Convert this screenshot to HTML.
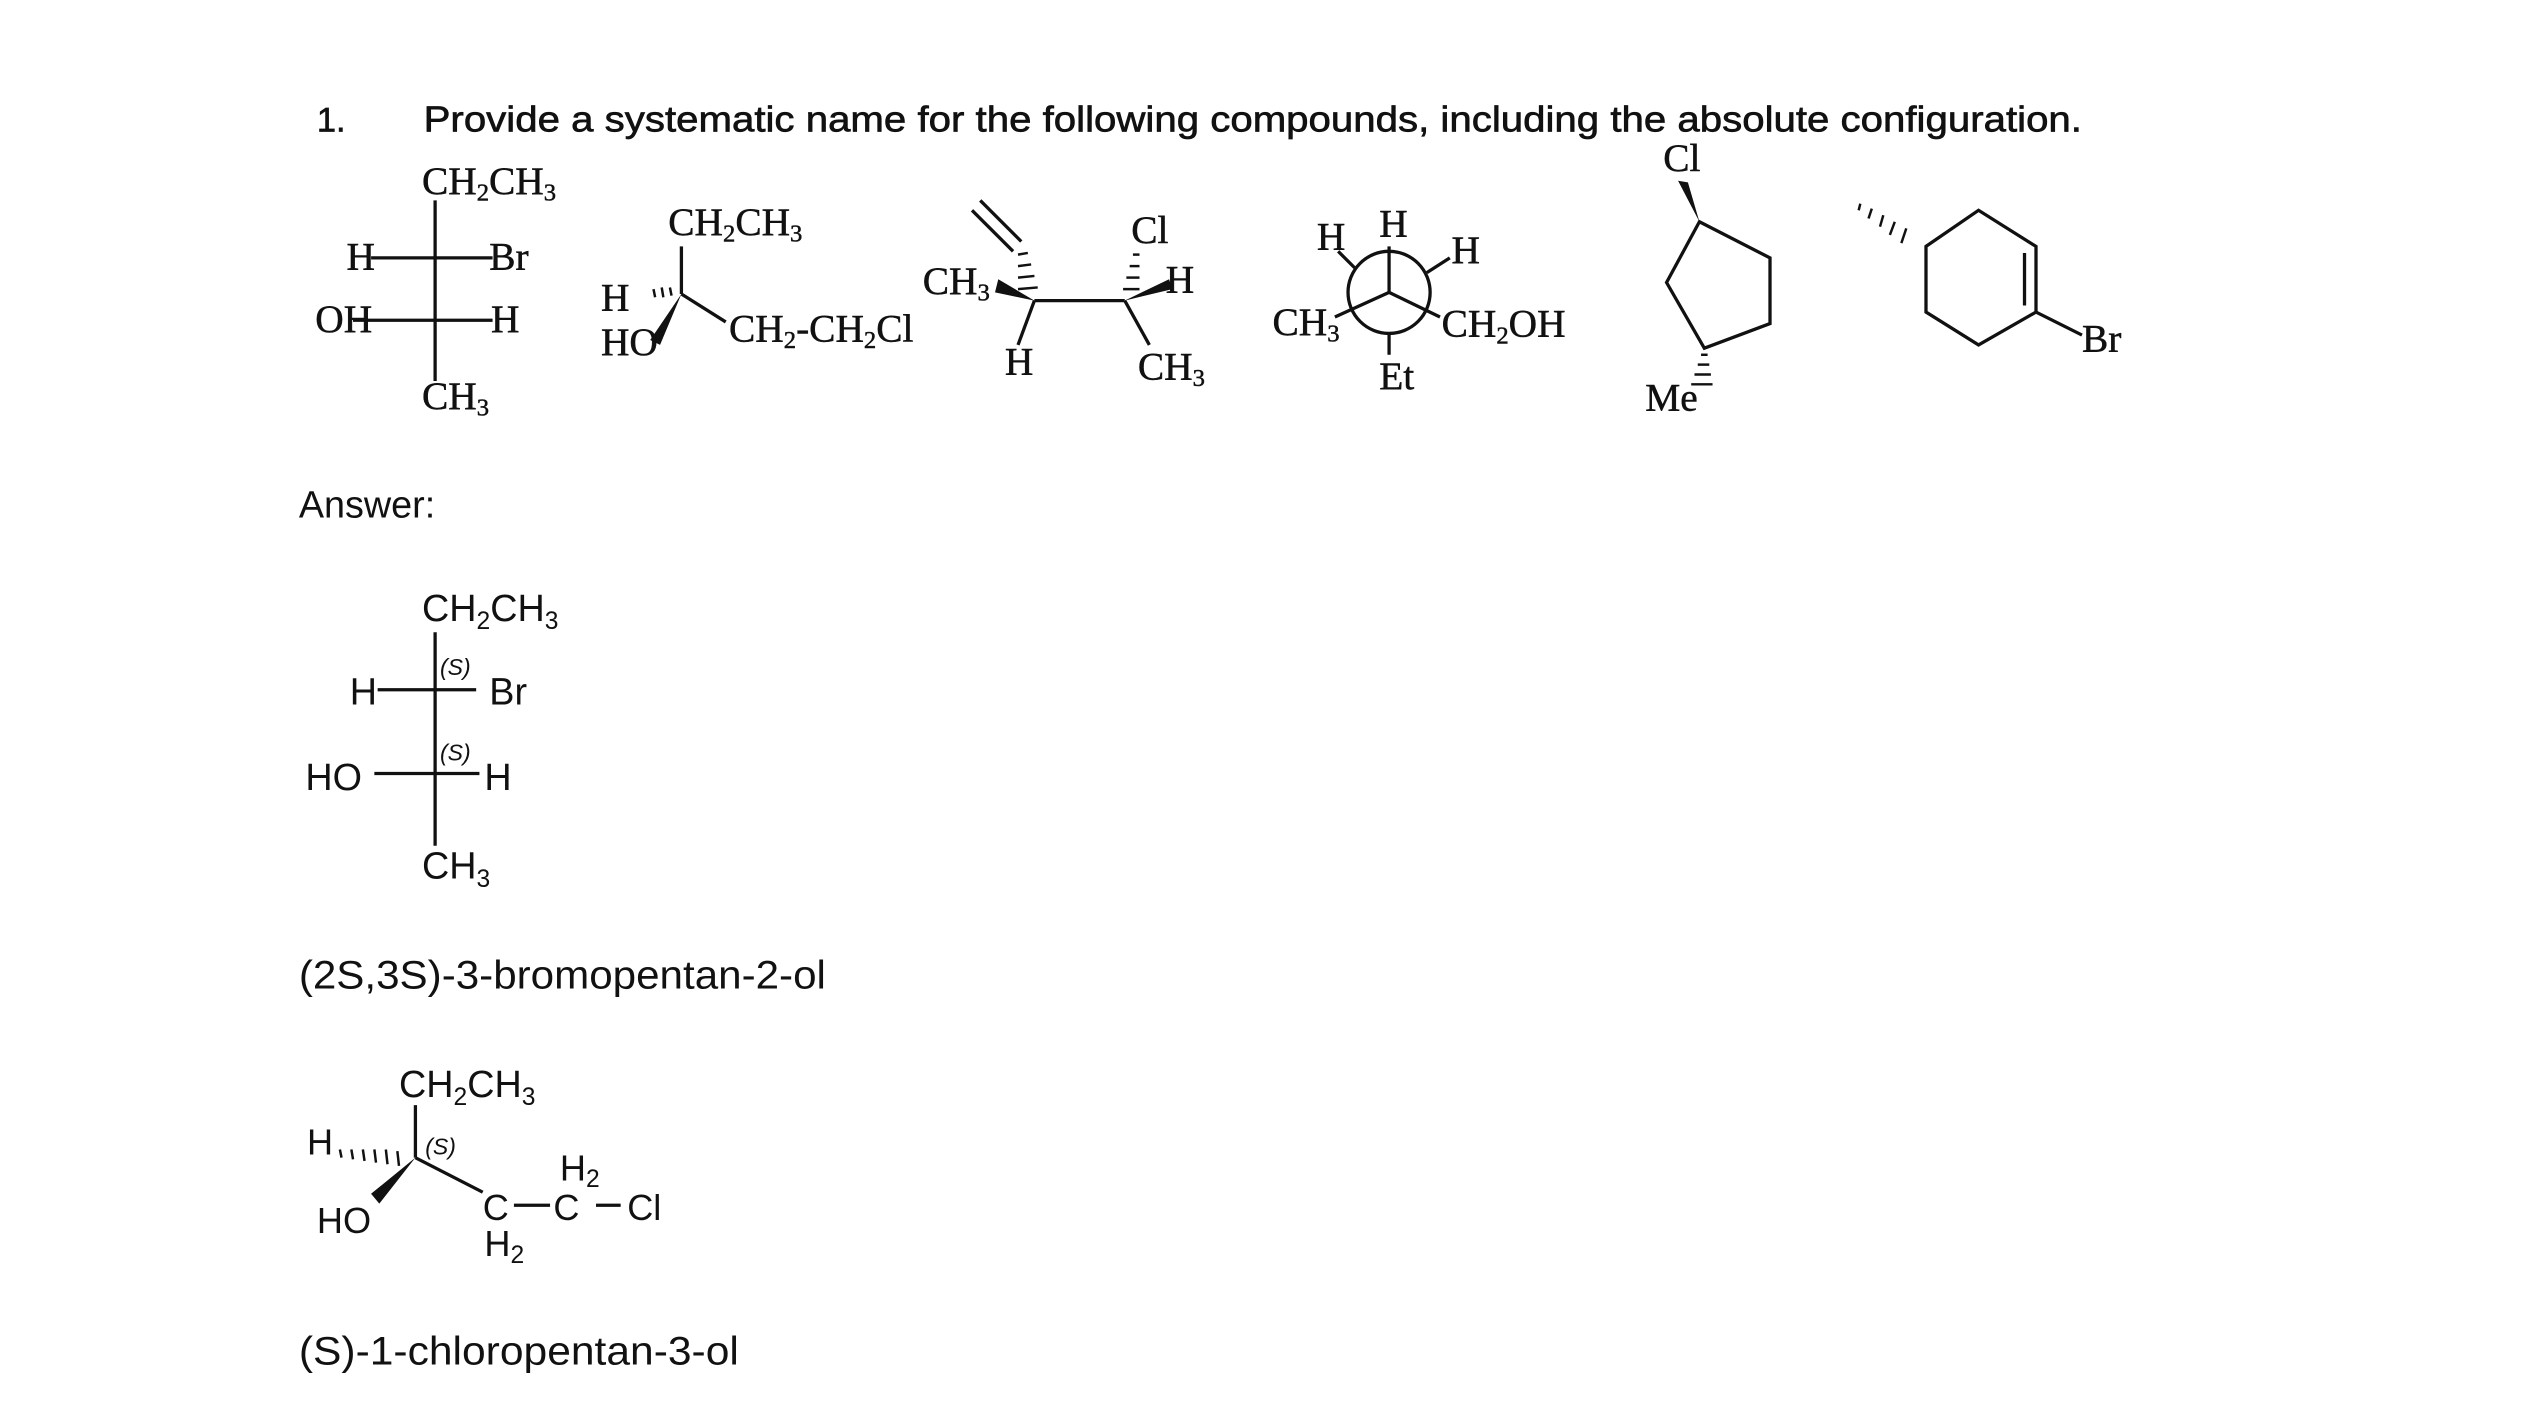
<!DOCTYPE html>
<html><head><meta charset="utf-8"><style>
html,body{margin:0;padding:0;background:#fff;}
svg{display:block;}
.s{font-family:"Liberation Serif",serif;font-size:24px;fill:#111;}
.a{font-family:"Liberation Sans",sans-serif;fill:#111;}
.sub{font-size:15px;}
</style></head><body>
<svg width="2545" height="1409" viewBox="0 0 1550 858" xmlns="http://www.w3.org/2000/svg">
<rect width="1550" height="858" fill="#fff"/>
<g stroke="#111" stroke-width="2" fill="none">
<!-- mol1 -->
<line x1="265" y1="122" x2="265" y2="232"/>
<line x1="226" y1="157" x2="300" y2="157"/>
<line x1="215" y1="195" x2="300" y2="195"/>
<!-- mol2 -->
<line x1="415" y1="150" x2="415" y2="179"/>
<line x1="415" y1="179" x2="442" y2="196"/>
<!-- mol3 -->
<line x1="597" y1="122" x2="622" y2="147"/>
<line x1="592" y1="128" x2="617" y2="153"/>
<line x1="630" y1="183" x2="685" y2="183"/>
<line x1="630" y1="183" x2="620" y2="210"/>
<line x1="685" y1="183" x2="700" y2="210"/>
<!-- newman -->
<circle cx="846" cy="178" r="25"/>
<line x1="846" y1="178" x2="846" y2="150"/>
<line x1="846" y1="178" x2="813" y2="193"/>
<line x1="846" y1="178" x2="877" y2="193"/>
<line x1="825" y1="163" x2="815" y2="153"/>
<line x1="869" y1="166" x2="883" y2="157"/>
<line x1="846" y1="203" x2="846" y2="216"/>
<!-- cyclopentane -->
<polygon points="1035,135 1078,157 1078,197 1038,212 1015,172"/>
<!-- cyclohexene -->
<polygon points="1173,150 1205,128 1240,150 1240,190 1205,210 1173,190"/>
<line x1="1233" y1="154" x2="1233" y2="186"/>
<line x1="1240" y1="190" x2="1268" y2="204"/>
<!-- answer fischer -->
<line x1="265" y1="385" x2="265" y2="515"/>
<line x1="230" y1="420" x2="290" y2="420"/>
<line x1="228" y1="471" x2="292" y2="471"/>
<!-- answer 2 -->
<line x1="253" y1="673" x2="253" y2="705"/>
<line x1="253" y1="705" x2="294" y2="726"/>
<line x1="313" y1="734" x2="335" y2="734"/>
<line x1="363" y1="734" x2="378" y2="734"/>
</g>
<g fill="#111">
<polygon points="415,179 402,210 396,207"/>
<polygon points="608,170 630,183 606,178"/>
<polygon points="685,183 712,170 714,176"/>
<polygon points="1022,110 1035,135 1028,111"/>
<polygon points="253,705 231,733 226,727"/>
</g>
<g stroke="#111" stroke-width="1.5">
<line x1="398" y1="176" x2="399" y2="181"/><line x1="403" y1="175" x2="404" y2="181"/><line x1="408" y1="175" x2="409" y2="180"/>
<line x1="620" y1="155" x2="626" y2="154"/><line x1="620" y1="162" x2="628" y2="161"/><line x1="620" y1="169" x2="630" y2="168"/><line x1="620" y1="176" x2="632" y2="175"/>
<line x1="690" y1="155" x2="694" y2="155"/><line x1="688" y1="162" x2="694" y2="162"/><line x1="686" y1="169" x2="694" y2="169"/><line x1="684" y1="176" x2="694" y2="176"/>
<line x1="1036" y1="216" x2="1040" y2="216"/><line x1="1034" y1="222" x2="1041" y2="222"/><line x1="1032" y1="228" x2="1042" y2="228"/><line x1="1030" y1="234" x2="1043" y2="234"/>
<line x1="1133" y1="124" x2="1132" y2="128"/><line x1="1140" y1="127" x2="1138" y2="133"/><line x1="1147" y1="131" x2="1145" y2="138"/><line x1="1154" y1="135" x2="1151" y2="143"/><line x1="1161" y1="139" x2="1158" y2="148"/>
<line x1="207" y1="700" x2="208" y2="705"/><line x1="214" y1="700" x2="215" y2="706"/><line x1="221" y1="700" x2="222" y2="707"/><line x1="228" y1="700" x2="229" y2="708"/><line x1="235" y1="700" x2="236" y2="709"/><line x1="242" y1="701" x2="243" y2="710"/>
</g>
<!-- title -->
<text class="a" x="193" y="80" font-size="21" stroke="#111" stroke-width="0.4">1.</text>
<text class="a" x="258" y="80" font-size="22" stroke="#111" stroke-width="0.4" textLength="1010" lengthAdjust="spacingAndGlyphs">Provide a systematic name for the following compounds, including the absolute configuration.</text>
<g stroke="#111" stroke-width="0.3">
<text class="s" x="257" y="118">CH<tspan class="sub" dy="4">2</tspan><tspan dy="-4">CH</tspan><tspan class="sub" dy="4">3</tspan></text>
<text class="s" x="211" y="164">H</text>
<text class="s" x="298" y="164">Br</text>
<text class="s" x="192" y="202">OH</text>
<text class="s" x="299" y="202">H</text>
<text class="s" x="257" y="249">CH<tspan class="sub" dy="4">3</tspan></text>
<text class="s" x="407" y="143">CH<tspan class="sub" dy="4">2</tspan><tspan dy="-4">CH</tspan><tspan class="sub" dy="4">3</tspan></text>
<text class="s" x="366" y="189" font-size="20">H</text>
<text class="s" x="366" y="216">HO</text>
<text class="s" x="444" y="208">CH<tspan class="sub" dy="4">2</tspan><tspan dy="-4">-CH</tspan><tspan class="sub" dy="4">2</tspan><tspan dy="-4">Cl</tspan></text>
<text class="s" x="562" y="179">CH<tspan class="sub" dy="4">3</tspan></text>
<text class="s" x="612" y="228">H</text>
<text class="s" x="689" y="148">Cl</text>
<text class="s" x="710" y="178">H</text>
<text class="s" x="693" y="231">CH<tspan class="sub" dy="4">3</tspan></text>
<text class="s" x="802" y="152">H</text>
<text class="s" x="840" y="144">H</text>
<text class="s" x="884" y="160">H</text>
<text class="s" x="775" y="204">CH<tspan class="sub" dy="4">3</tspan></text>
<text class="s" x="878" y="205">CH<tspan class="sub" dy="4">2</tspan><tspan dy="-4">OH</tspan></text>
<text class="s" x="840" y="237">Et</text>
<text class="s" x="1013" y="104">Cl</text>
<text class="s" x="1002" y="250">Me</text>
<text class="s" x="1268" y="214" font-size="18">Br</text>
</g>
<!-- answer -->
<text class="a" x="182" y="315" font-size="23">Answer:</text>
<text class="a" x="257" y="378" font-size="23">CH<tspan font-size="15" dy="5">2</tspan><tspan dy="-5">CH</tspan><tspan font-size="15" dy="5">3</tspan></text>
<text class="a" x="268" y="411" font-size="14" font-style="italic">(S)</text>
<text class="a" x="213" y="429" font-size="23">H</text>
<text class="a" x="298" y="429" font-size="23">Br</text>
<text class="a" x="268" y="463" font-size="14" font-style="italic">(S)</text>
<text class="a" x="186" y="481" font-size="23">HO</text>
<text class="a" x="295" y="481" font-size="23">H</text>
<text class="a" x="257" y="535" font-size="23">CH<tspan font-size="15" dy="5">3</tspan></text>
<text class="a" x="182" y="602" font-size="24" textLength="321" lengthAdjust="spacingAndGlyphs">(2S,3S)-3-bromopentan-2-ol</text>
<text class="a" x="243" y="668" font-size="23">CH<tspan font-size="15" dy="5">2</tspan><tspan dy="-5">CH</tspan><tspan font-size="15" dy="5">3</tspan></text>
<text class="a" x="187" y="703" font-size="22">H</text>
<text class="a" x="259" y="703" font-size="14" font-style="italic">(S)</text>
<text class="a" x="193" y="751" font-size="22">HO</text>
<text class="a" x="341" y="719" font-size="22">H<tspan font-size="15" dy="4">2</tspan></text>
<text class="a" x="294" y="743" font-size="22">C</text>
<text class="a" x="337" y="743" font-size="22">C</text>
<text class="a" x="382" y="743" font-size="22">Cl</text>
<text class="a" x="295" y="765" font-size="22">H<tspan font-size="15" dy="4">2</tspan></text>
<text class="a" x="182" y="831" font-size="24" textLength="268" lengthAdjust="spacingAndGlyphs">(S)-1-chloropentan-3-ol</text>
</svg>
</body></html>
